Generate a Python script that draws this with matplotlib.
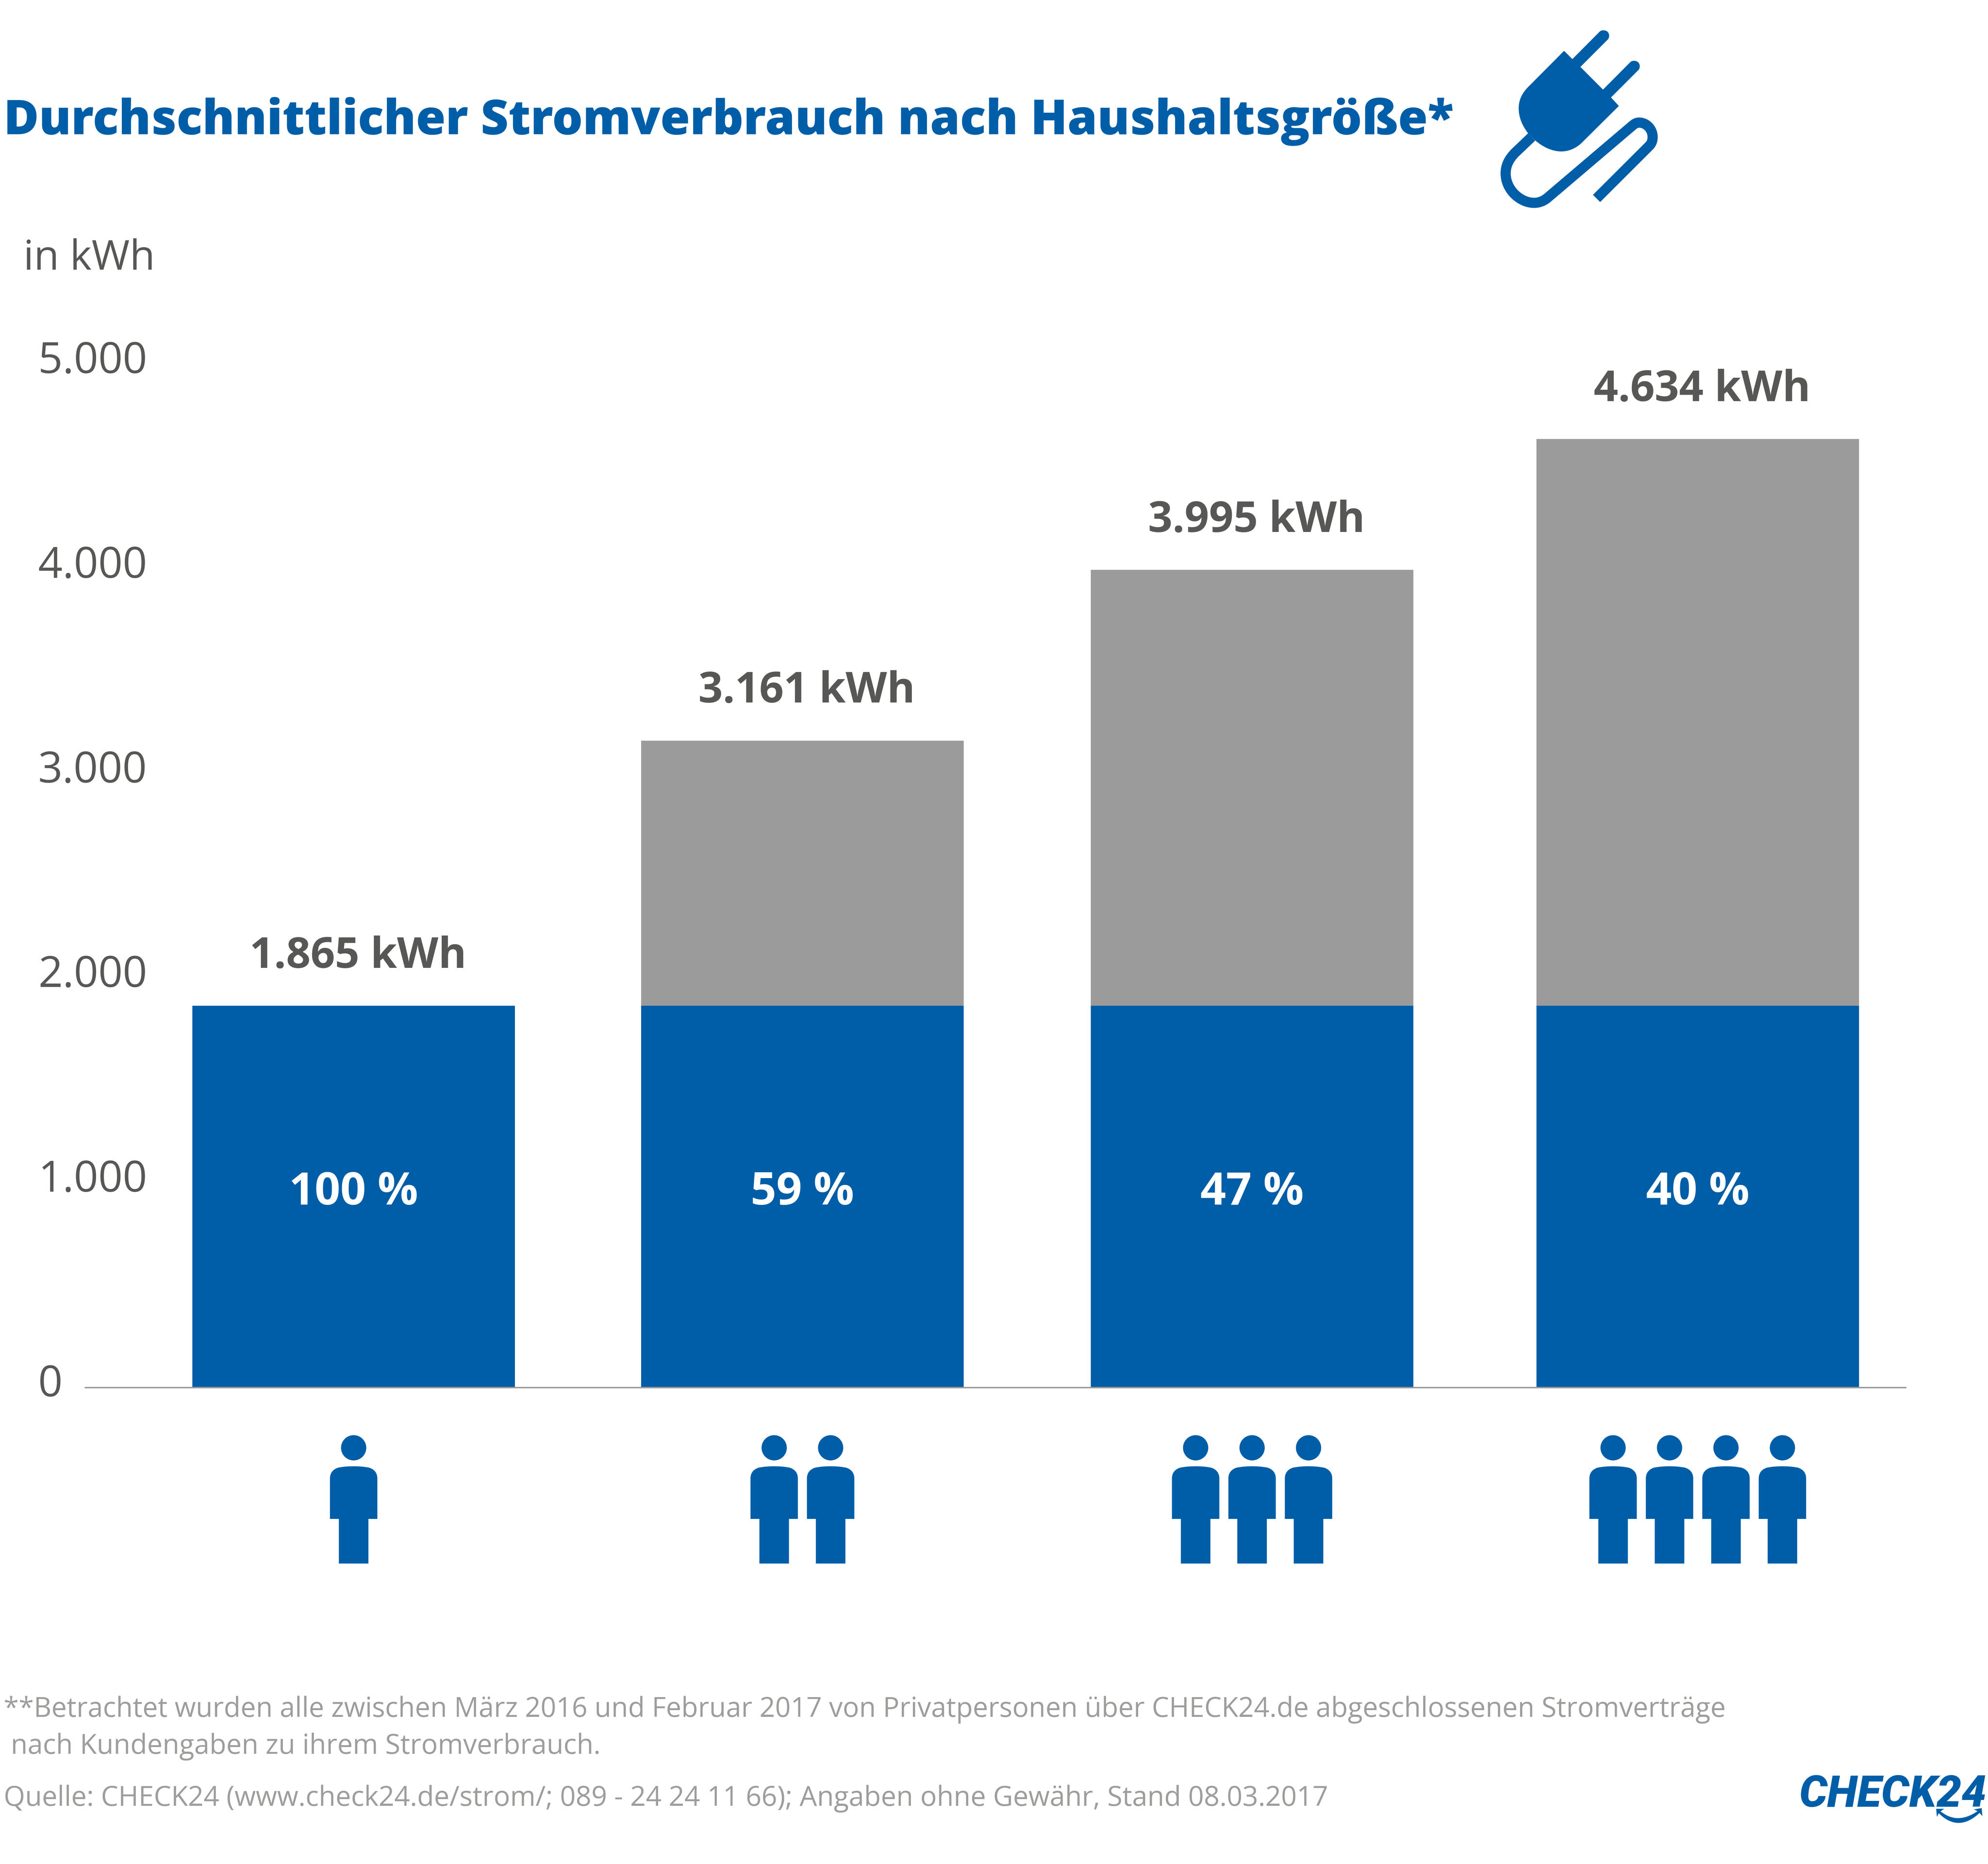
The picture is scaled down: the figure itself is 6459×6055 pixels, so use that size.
import matplotlib
matplotlib.use("Agg")
import matplotlib.pyplot as plt
from matplotlib.patches import Ellipse, PathPatch
from matplotlib.path import Path
from matplotlib.transforms import ScaledTranslation

W, H = 6459, 6055
BLUE = "#005ea8"
GREY_BAR = "#9b9b9b"
DARK = "#575756"
LIGHT = "#9d9d9c"
FONT = "Open Sans"

household_sizes = [1, 2, 3, 4]
totals = [1865, 3161, 3995, 4634]
single_share = [1865, 1865, 1865, 1865]
percent_labels = ["100 %", "59 %", "47 %", "40 %"]
value_labels = ["1.865 kWh", "3.161 kWh", "3.995 kWh", "4.634 kWh"]
y_ticks = [0, 1000, 2000, 3000, 4000, 5000]
y_tick_labels = ["0", "1.000", "2.000", "3.000", "4.000", "5.000"]

title = "Durchschnittlicher Stromverbrauch nach Haushaltsgröße*"
note_1 = "**Betrachtet wurden alle zwischen März 2016 und Februar 2017 von Privatpersonen über CHECK24.de abgeschlossenen Stromverträge"
note_2 = "nach Kundengaben zu ihrem Stromverbrauch."
source = "Quelle: CHECK24 (www.check24.de/strom/; 089 - 24 24 11 66); Angaben ohne Gewähr, Stand 08.03.2017"

# layout in pixels of the final picture
BAR_CENTERS = [1149, 2607, 4068, 5516]
BAR_WIDTH = 1048
AXIS_LEFT, AXIS_RIGHT = 277, 6191
BASELINE = 4507
PX_PER_KWH = 0.6648
PERSON_STEP = 183.4


def fit_width(txt, width):
    fig.canvas.draw()
    box = txt.get_window_extent()
    txt.set_fontsize(txt.get_fontsize() * width / box.width)


def draw_person(a, cx):
    a.add_patch(Ellipse((cx, 4703), 82, 82, color=BLUE, lw=0))
    verts = [
        (cx - 77, 4934), (cx - 77, 4803),
        (cx - 77, 4785), (cx - 68, 4774), (cx - 52, 4768),
        (cx - 35, 4764), (cx - 15, 4763), (cx, 4763),
        (cx + 15, 4763), (cx + 35, 4764), (cx + 52, 4768),
        (cx + 68, 4774), (cx + 77, 4785), (cx + 77, 4803),
        (cx + 77, 4934), (cx + 48, 4934), (cx + 48, 5079),
        (cx - 48, 5079), (cx - 48, 4934), (cx - 77, 4934),
    ]
    codes = [Path.MOVETO, Path.LINETO] + [Path.CURVE4] * 12 + [Path.LINETO] * 5 + [Path.CLOSEPOLY]
    a.add_patch(PathPatch(Path(verts, codes), fc=BLUE, lw=0))


def plug_xy(points):
    return [(4700 + x / 1.96, 50 + y / 2.24) for x, y in points]


def draw_plug(a):
    c4 = Path.CURVE4
    ln = Path.LINETO
    pts = [
        (748, 258), (801, 318), (975, 118),
        (990, 100), (1035, 105), (1035, 148), (1035, 160), (1032, 168), (1027, 175),
        (852, 375), (996, 540), (1170, 340),
        (1185, 322), (1230, 327), (1230, 370), (1230, 382), (1227, 390), (1222, 397),
        (1047, 597), (1097, 659), (858, 930),
        (820, 970), (775, 990), (730, 990), (670, 990), (610, 955), (565, 910),
        (519, 858),
        (480, 800), (459, 740), (459, 675), (459, 610), (485, 560), (520, 520),
        (748, 258),
    ]
    codes = [Path.MOVETO, ln, ln, c4, c4, c4, c4, c4, c4, ln, ln, ln, c4, c4, c4, c4, c4, c4,
             ln, ln, ln, c4, c4, c4, c4, c4, c4, ln, c4, c4, c4, c4, c4, c4, Path.CLOSEPOLY]
    a.add_patch(PathPatch(Path(plug_xy(pts), codes), fc=BLUE, lw=0))
    cable = [
        (542, 884), (440, 995),
        (395, 1045), (376, 1095), (376, 1150),
        (376, 1270), (470, 1364), (557, 1364),
        (590, 1364), (620, 1350), (645, 1325),
        (1175, 810),
        (1190, 795), (1205, 780), (1225, 780),
        (1275, 780), (1312, 830), (1312, 885),
        (1312, 915), (1303, 935), (1290, 950),
        (955, 1332),
    ]
    codes = [Path.MOVETO, ln, c4, c4, c4, c4, c4, c4, c4, c4, c4, ln, c4, c4, c4, c4, c4, c4, c4, c4, c4, ln]
    a.add_patch(PathPatch(Path(plug_xy(cable), codes), fc="none", ec=BLUE, lw=23.8, capstyle="butt"))


def draw_smile(a):
    c3 = Path.CURVE3
    ln = Path.LINETO
    pts = [
        (560, 527), (638, 527), (603, 552),
        (767, 685), (963, 550),
        (928, 533), (1003, 520), (1010, 598), (983, 567),
        (776, 761), (585, 570),
        (567, 605), (560, 527),
    ]
    codes = [Path.MOVETO, ln, ln, c3, c3, ln, ln, ln, ln, c3, c3, ln, Path.CLOSEPOLY]
    xy = [(6104 + x / 3, 5700 + y / 3) for x, y in pts]
    a.add_patch(PathPatch(Path(xy, codes), fc=BLUE, lw=0))


fig = plt.figure(figsize=(W / 100, H / 100), dpi=100, facecolor="white")

# bars
y_top = 5400
ax = fig.add_axes([AXIS_LEFT / W, 1 - BASELINE / H, (AXIS_RIGHT - AXIS_LEFT) / W, y_top * PX_PER_KWH / H])
ax.set_xlim(AXIS_LEFT, AXIS_RIGHT)
ax.set_ylim(0, y_top)
ax.patch.set_alpha(0)
rest = [t - s for t, s in zip(totals, single_share)]
ax.bar(BAR_CENTERS, single_share, width=BAR_WIDTH, color=BLUE)
ax.bar(BAR_CENTERS, rest, bottom=single_share, width=BAR_WIDTH, color=GREY_BAR)
for side in ["top", "left", "right"]:
    ax.spines[side].set_visible(False)
ax.spines["bottom"].set_color("#999999")
ax.spines["bottom"].set_linewidth(3.4)
ax.set_xticks([])
ax.set_yticks(y_ticks, y_tick_labels, family=FONT, fontsize=100, color=DARK, ha="left", va="baseline")
ax.tick_params(axis="y", length=0, pad=110)
shift = ScaledTranslation(0, -29 / 100, fig.dpi_scale_trans)
for lab in ax.get_yticklabels():
    lab.set_transform(lab.get_transform() + shift)

for x, t, lab in zip(BAR_CENTERS, totals, value_labels):
    ax.annotate(lab, (x + 14, t), xytext=(0, 30 * 4.119 * 0.72), textcoords="offset points",
                ha="center", va="baseline", family=FONT, weight="bold", fontsize=100, color=DARK)
for x, lab in zip(BAR_CENTERS, percent_labels):
    ax.text(x, 950, lab, ha="center", va="center", family=FONT, weight="bold", fontsize=105, color="white")

# pixel overlay for text outside the plot and the pictograms
ov = fig.add_axes([0, 0, 1, 1], zorder=-1)
ov.set_xlim(0, W)
ov.set_ylim(H, 0)
ov.axis("off")

t_title = ov.text(12, 436, title, family=FONT, weight=800, fontsize=130, color=BLUE, va="baseline")
t_unit = ov.text(76, 876, "in kWh", family=FONT, fontsize=100, color=DARK, va="baseline")
t_n1 = ov.text(12, 5577, note_1, family=FONT, fontsize=68, color=LIGHT, va="baseline")
t_n2 = ov.text(35, 5697, note_2, family=FONT, fontsize=68, color=LIGHT, va="baseline")
t_src = ov.text(12, 5866, source, family=FONT, fontsize=68, color=LIGHT, va="baseline")
t_logo = ov.text(5846, 5869, "CHECK24", family="Roboto", weight="black", style="italic",
                 fontsize=130, color=BLUE, va="baseline")
fit_width(t_title, 4712)
fit_width(t_unit, 428)
fit_width(t_n1, 5600)
fit_width(t_n2, 1920)
fit_width(t_src, 4308)
fit_width(t_logo, 608)

for x, n in zip(BAR_CENTERS, household_sizes):
    for i in range(n):
        draw_person(ov, x + (i - (n - 1) / 2) * PERSON_STEP)

draw_plug(ov)
draw_smile(ov)

fig.savefig("out.png", dpi=100)
